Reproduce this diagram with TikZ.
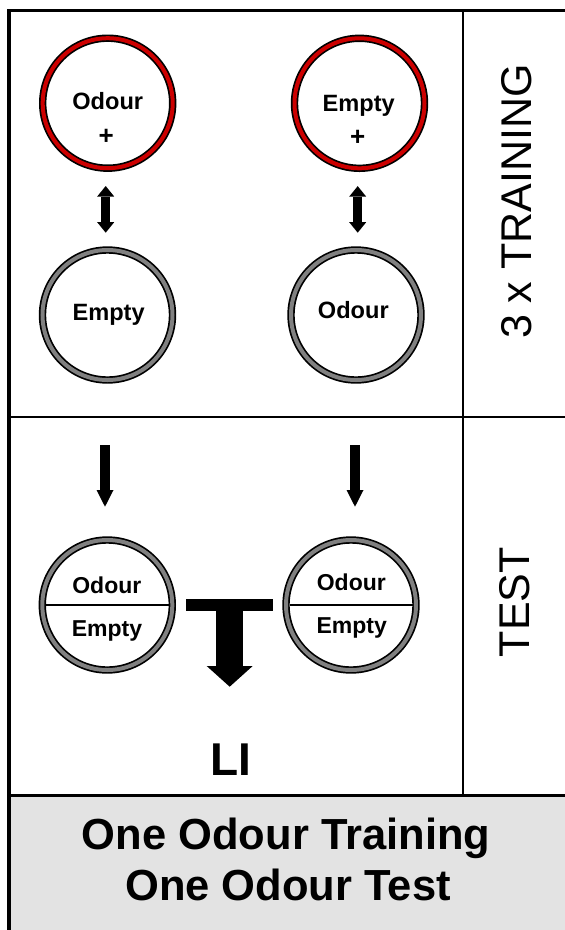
\documentclass[tikz,border=0pt]{standalone}
\usepackage{fontspec}
\setmainfont{Liberation Sans}
\usetikzlibrary{arrows.meta}
\definecolor{ringred}{RGB}{204,0,0}
\definecolor{ringgray}{RGB}{128,128,128}
\definecolor{panelgray}{RGB}{227,227,227}
\begin{document}
\begin{tikzpicture}[x=1pt,y=-1pt,
  ring/.style={circle, inner sep=0pt, outer sep=0pt, minimum size=130pt,
    draw=black, line width=1.7pt, double distance=4pt, fill=white},
  redring/.style={ring, double=ringred},
  grayring/.style={ring, double=ringgray},
  ctext/.style={font=\fontsize{23.6}{27}\selectfont\bfseries, inner sep=0pt, anchor=base},
  ttext/.style={font=\fontsize{23}{26}\selectfont\bfseries, inner sep=0pt, anchor=base},
  plustext/.style={font=\fontsize{26}{30}\selectfont\bfseries, inner sep=0pt, anchor=base},
  side/.style={font=\fontsize{43}{50}\selectfont, rotate=90, inner sep=0pt},
  title/.style={font=\fontsize{43.5}{50}\selectfont\bfseries, inner sep=0pt, anchor=base},
  frameline/.style={line width=3.5pt},
  divline/.style={line width=2.3pt},
  dblarrow/.style={line width=9pt,
    {Triangle[width=17pt,length=10.5pt,line width=0pt]}-{Triangle[width=17pt,length=10.5pt,line width=0pt]}},
  downarrow/.style={line width=10pt, -{Triangle[width=17pt,length=16.7pt,line width=0pt]}},
  bigarrow/.style={line width=26.7pt, -{Triangle[width=46pt,length=20.7pt,line width=0pt]}}
]
\path[use as bounding box] (0,0) rectangle (565,930);
\clip (0,0) rectangle (565,930);

% panels and frame
\fill[panelgray] (9,795.3) rectangle (570,935);
\draw[divline] (9,417) -- (570,417);
\draw[divline] (462.7,10.7) -- (462.7,795.3);
\draw[frameline] (9,795.3) -- (570,795.3);
\draw[frameline] (9,935) -- (9,10.7) -- (570,10.7);

% training circles
\node[redring] (tl) at (107.7,103.2) {};
\node[redring] (tr) at (359.5,103.3) {};
\node[grayring] (bl) at (107.5,315) {};
\node[grayring] (br) at (356,315) {};

\node[ctext] (tlw) at (107.7,109.3) {Odour};
\node[plustext] (tlp) at (106.2,144) {+};
\node[ctext] (trw) at (358.8,111.7) {Empty};
\node[plustext] (trp) at (357.8,145.5) {+};
\node[ctext] (blw) at (108.6,320.7) {Empty};
\node[ctext] (brw) at (353.3,318.3) {Odour};

% training double arrows
\draw[dblarrow, shorten <=17.8pt, shorten >=17.3pt]
  ([xshift=-2pt]tl.south) -- ([xshift=-2pt]tl.south |- bl.north);
\draw[dblarrow, shorten <=17.8pt, shorten >=17.3pt]
  ([xshift=-1.8pt]tr.south) -- ([xshift=-1.8pt]tr.south |- br.north);

% test circles
\node[grayring] (lt) at (107.3,605) {};
\node[grayring] (rt) at (351,605) {};
\draw[line width=1.5pt, shorten <=3.5pt, shorten >=3.5pt] (lt.west) -- (lt.east);
\draw[line width=1.5pt, shorten <=3.5pt, shorten >=3.5pt] (rt.west) -- (rt.east);

\node[ttext] (ltw1) at (106.8,593.3) {Odour};
\node[ttext] (ltw2) at (107,636) {Empty};
\node[ttext] (rtw1) at (351.3,590.7) {Odour};
\node[ttext] (rtw2) at (351.7,633.3) {Empty};

% arrows into test circles
\coordinate (a1) at (105,445);
\coordinate (a2) at (355,445);
\draw[downarrow, shorten >=33.3pt] (a1) -- (a1 |- lt.north);
\draw[downarrow, shorten >=33.3pt] (a2) -- (a2 |- rt.north);

% T-shaped arrow to LI
\draw[line width=12.4pt, shorten <=13.7pt, shorten >=13pt] (lt.east) -- (rt.west);
\coordinate (tstart) at (229.7,605);
\coordinate (ttip) at (229.7,686.7);
\draw[bigarrow] (tstart) -- (ttip);

\node[font=\fontsize{46}{52}\selectfont\bfseries, inner sep=0pt, anchor=base] (li) at (230.5,775) {LI};

% side labels
\node[side] (trainlbl) at (516.7,201.5) {3 x TRAINING};
\node[side] (testlbl) at (515,602.3) {TEST};

% title
\node[title] (title1) at (286,849.3) {One Odour Training};
\node[title] (title2) at (288,900) {One Odour Test};
\end{tikzpicture}
\end{document}
